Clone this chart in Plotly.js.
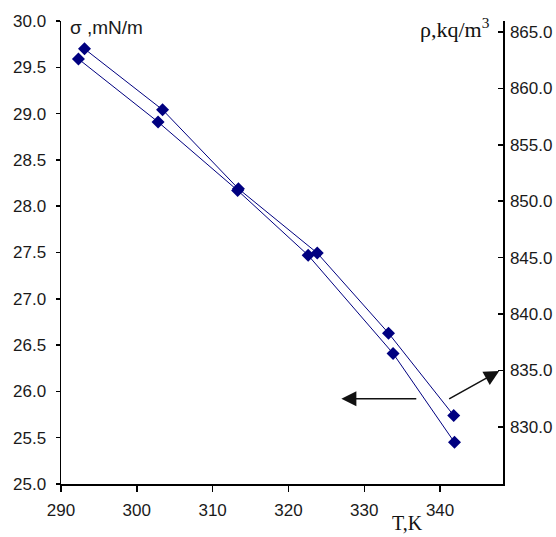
<!DOCTYPE html>
<html>
<head>
<meta charset="utf-8">
<script src="https://cdn.plot.ly/plotly-3.0.1.min.js"></script>
<style>html,body{margin:0;padding:0;background:#fff;}#chart{width:556px;height:537px;}</style>
</head>
<body>
<div id="chart"></div>
<script>
// Surface tension series (left axis)
const tSigma = [292.3, 302.8, 313.3, 322.6, 333.8, 341.9];
const sigmaValues = [29.59, 28.91, 28.17, 27.47, 26.41, 25.45];
// Density series (right axis)
const tRho = [293.1, 303.4, 313.4, 323.8, 333.2, 341.8];
const rhoValues = [863.5, 858.1, 851.1, 845.4, 838.3, 831.0];
// Tick labels
const xTicks = [290, 300, 310, 320, 330, 340];
const sigmaTicks = [25.0, 25.5, 26.0, 26.5, 27.0, 27.5, 28.0, 28.5, 29.0, 29.5, 30.0];
const rhoTicks = [830, 835, 840, 845, 850, 855, 860, 865];

const navy = '#000080';
const lineStyle = {color: navy, width: 1};
const markerStyle = {symbol: 'diamond', size: 10, color: navy};

const traces = [
  {x: tSigma, y: sigmaValues, mode: 'lines+markers', line: lineStyle, marker: markerStyle, yaxis: 'y', showlegend: false},
  {x: tRho, y: rhoValues, mode: 'lines+markers', line: lineStyle, marker: markerStyle, yaxis: 'y2', showlegend: false}
];

const tickFont = {family: 'Arial, "Liberation Sans", sans-serif', size: 17, color: '#1a1a1a'};

const layout = {
  width: 556, height: 537,
  margin: {l: 61, r: 53, t: 21, b: 53},
  paper_bgcolor: '#fff', plot_bgcolor: '#fff',
  xaxis: {
    range: [290, 348.3], tickvals: xTicks, ticktext: xTicks.map(String),
    showgrid: false, zeroline: false, showline: true, linecolor: '#000', linewidth: 1.5,
    ticks: 'outside', ticklen: 6, tickwidth: 1.5, tickcolor: '#000',
    tickfont: tickFont, ticklabelstandoff: 4
  },
  yaxis: {
    range: [25, 30], tickvals: sigmaTicks, ticktext: sigmaTicks.map(v => v.toFixed(1)),
    showgrid: false, zeroline: false, showline: true, linecolor: '#000', linewidth: 1.5,
    ticks: 'outside', ticklen: 4, tickwidth: 1.5, tickcolor: '#000',
    tickfont: tickFont, ticklabelstandoff: 6
  },
  yaxis2: {
    range: [824.93, 865.97], overlaying: 'y', side: 'right',
    tickvals: rhoTicks, ticktext: rhoTicks.map(v => v.toFixed(1)),
    showgrid: false, zeroline: false, showline: true, linecolor: '#000', linewidth: 1.5,
    ticks: 'inside', ticklen: 5, tickwidth: 1.5, tickcolor: '#000',
    tickfont: tickFont, ticklabelstandoff: 2
  },
  annotations: [
    {xref: 'paper', yref: 'paper', x: 0.0165, y: 0.985, xanchor: 'left', yanchor: 'middle',
     text: 'σ ,mN/m', showarrow: false,
     font: {family: 'Arial, "Liberation Sans", sans-serif', size: 19, color: '#1a1a1a'}},
    {xref: 'paper', yref: 'paper', x: 0.975, y: 0.985, xanchor: 'right', yanchor: 'middle',
     text: 'ρ,kq/m<sup>3</sup>', showarrow: false,
     font: {family: '"Liberation Serif", "Times New Roman", serif', size: 22, color: '#111'}},
    {xref: 'paper', yref: 'paper', x: 0.785, y: -0.085, xanchor: 'center', yanchor: 'middle',
     text: 'T,K', showarrow: false,
     font: {family: '"Liberation Serif", "Times New Roman", serif', size: 20, color: '#111'}},
    {xref: 'x', yref: 'y', axref: 'x', ayref: 'y',
     x: 326.98, y: 25.92, ax: 337.06, ay: 25.92, text: '', showarrow: true,
     arrowhead: 2, arrowsize: 2, arrowwidth: 1.5, arrowcolor: '#111'},
    {xref: 'x', yref: 'y', axref: 'x', ayref: 'y',
     x: 347.8, y: 26.22, ax: 341.0, ay: 25.91, text: '', showarrow: true,
     arrowhead: 2, arrowsize: 2, arrowwidth: 1.5, arrowcolor: '#111'}
  ]
};

Plotly.newPlot('chart', traces, layout, {displayModeBar: false, staticPlot: true});
</script>
</body>
</html>
